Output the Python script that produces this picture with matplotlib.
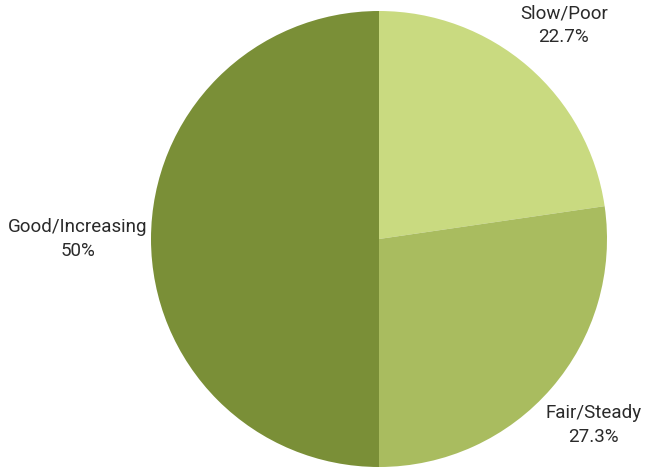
import numpy as np
import matplotlib
matplotlib.use("Agg")
import matplotlib.pyplot as plt

# data
categories = ["Slow/Poor", "Fair/Steady", "Good/Increasing"]
values = [22.7, 27.3, 50]
pct_labels = ["22.7%", "27.3%", "50%"]
colors = ["#c9da80", "#a9bc5f", "#7a8f37"]

W, H = 646, 469
fig = plt.figure(figsize=(W / 100, H / 100), dpi=100)
ax = fig.add_axes([0, 0, 1, 1])

cx, cy, r = 379, H - 239, 228
wedges, _ = ax.pie(values, colors=colors, startangle=90, counterclock=False,
                   center=(cx, cy), radius=r, frame=True,
                   wedgeprops=dict(linewidth=0))
ax.set_xlim(0, W)
ax.set_ylim(0, H)
ax.set_aspect("equal")
ax.axis("off")

# labels placed along each slice's mid angle
label_dist = [1.24, 1.245, 1.32]
for w, name, pct, d in zip(wedges, categories, pct_labels, label_dist):
    ang = np.deg2rad((w.theta1 + w.theta2) / 2)
    x = cx + d * r * np.cos(ang)
    y = cy + d * r * np.sin(ang)
    ax.text(x, y, name + "\n" + pct, ha="center", va="center",
            fontsize=13.5, family="Roboto", color="#2a2a2a", linespacing=1.4)

fig.savefig("out.png", dpi=100)
